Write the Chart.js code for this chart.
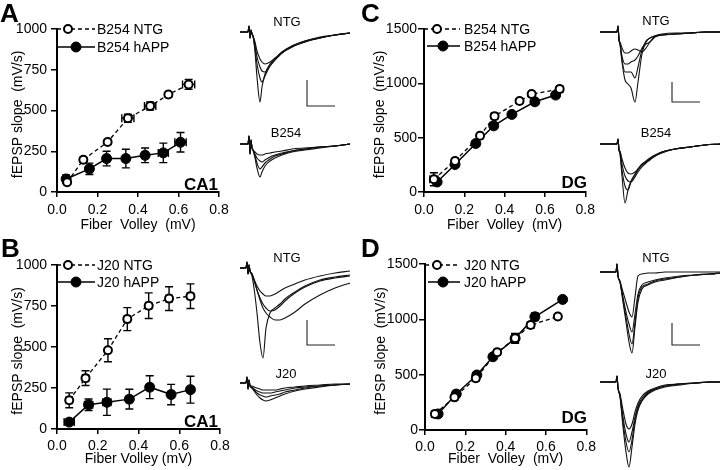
<!DOCTYPE html>
<html>
<head>
<meta charset="utf-8">
<script src="https://cdn.jsdelivr.net/npm/chart.js@4.4.1/dist/chart.umd.min.js"></script>
<style>
  body { margin: 0; background: #fff; }
  #fig { position: relative; width: 720px; height: 470px; overflow: hidden; font-family: "Liberation Sans", Arial, sans-serif; color: #000; }
  #fig canvas { position: absolute; }
  .letter { position: absolute; font-weight: bold; font-size: 26px; line-height: 26px; }
  .region { position: absolute; font-weight: bold; font-size: 17px; line-height: 17px; }
  .tl { position: absolute; width: 60px; text-align: center; font-size: 13px; line-height: 13px; }
</style>
</head>
<body>
<div id="fig">
  <canvas id="plotA" width="240" height="235" style="left:0;top:0"></canvas>
  <canvas id="plotB" width="240" height="235" style="left:0;top:235px"></canvas>
  <canvas id="plotC" width="240" height="235" style="left:360px;top:0"></canvas>
  <canvas id="plotD" width="240" height="235" style="left:360px;top:235px"></canvas>

  <canvas id="trA1" width="120" height="110" style="left:240px;top:17px"></canvas>
  <canvas id="trA2" width="120" height="110" style="left:240px;top:129px"></canvas>
  <canvas id="trB1" width="120" height="110" style="left:240px;top:253px"></canvas>
  <canvas id="trB2" width="120" height="110" style="left:240px;top:368px"></canvas>
  <canvas id="trC1" width="120" height="110" style="left:600px;top:17px"></canvas>
  <canvas id="trC2" width="120" height="110" style="left:600px;top:129px"></canvas>
  <canvas id="trD1" width="120" height="110" style="left:600px;top:257px"></canvas>
  <canvas id="trD2" width="120" height="110" style="left:600px;top:367px"></canvas>

  <div class="letter" style="left:0;top:0">A</div>
  <div class="letter" style="left:1px;top:235px">B</div>
  <div class="letter" style="left:361px;top:0">C</div>
  <div class="letter" style="left:361px;top:235px">D</div>

  <div class="region" style="right:502px;top:176px">CA1</div>
  <div class="region" style="right:502px;top:413px">CA1</div>
  <div class="region" style="right:133px;top:174px">DG</div>
  <div class="region" style="right:133px;top:409px">DG</div>

  <div class="tl" style="left:257px;top:15px">NTG</div>
  <div class="tl" style="left:256px;top:126px">B254</div>
  <div class="tl" style="left:257px;top:251px">NTG</div>
  <div class="tl" style="left:256px;top:367px">J20</div>
  <div class="tl" style="left:626px;top:14px">NTG</div>
  <div class="tl" style="left:626px;top:126px">B254</div>
  <div class="tl" style="left:626px;top:251px">NTG</div>
  <div class="tl" style="left:626px;top:367px">J20</div>
</div>

<script>
// fiber volley (mV) vs fEPSP slope (mV/s), errors = SEM
// A: B254 line, CA1
var fvA_ntg    = [0.05, 0.13, 0.25, 0.35, 0.46, 0.55, 0.65];
var slopeA_ntg = [60, 198, 307, 452, 527, 598, 660];
var semA_ntg   = [15, 15, 15, 25, 25, 15, 30];
var fvSemA_ntg = [0.01, 0.01, 0.01, 0.03, 0.028, 0.01, 0.03];
var fvA_app    = [0.045, 0.16, 0.245, 0.34, 0.435, 0.525, 0.61];
var slopeA_app = [80, 142, 205, 205, 225, 240, 305];
var semA_app   = [25, 35, 45, 57, 45, 60, 60];
var fvSemA_app = [0.015, 0.015, 0.015, 0.015, 0.015, 0.025, 0.028];

// B: J20 line, CA1
var fvB_ntg    = [0.06, 0.14, 0.25, 0.345, 0.45, 0.55, 0.655];
var slopeB_ntg = [175, 310, 480, 670, 752, 795, 810];
var semB_ntg   = [45, 45, 70, 70, 78, 72, 75];
var fvSemB_ntg = [0.015, 0.015, 0.01, 0.015, 0.015, 0.015, 0.015];
var fvB_app    = [0.06, 0.155, 0.245, 0.355, 0.455, 0.56, 0.655];
var slopeB_app = [42, 148, 163, 182, 255, 210, 240];
var semB_app   = [10, 35, 80, 60, 70, 62, 82];
var fvSemB_app = [0.025, 0.02, 0.02, 0.015, 0.015, 0.015, 0.015];

// C: B254 line, DG
var fvC_ntg    = [0.049, 0.154, 0.278, 0.35, 0.474, 0.534, 0.673];
var slopeC_ntg = [117, 286, 517, 698, 837, 901, 947];
var semC_ntg   = [60, 25, 25, 25, 20, 15, 20];
var fvSemC_ntg = [0.02, 0.01, 0.01, 0.015, 0.012, 0.012, 0.015];
var fvC_app    = [0.065, 0.154, 0.257, 0.346, 0.436, 0.55, 0.653];
var slopeC_app = [92, 253, 446, 609, 714, 830, 892];
var semC_app   = [25, 25, 25, 25, 20, 20, 25];
var fvSemC_app = [0.012, 0.01, 0.01, 0.01, 0.012, 0.012, 0.012];

// D: J20 line, DG
var fvD_ntg    = [0.049, 0.146, 0.252, 0.358, 0.447, 0.524, 0.659];
var slopeD_ntg = [145, 295, 467, 702, 828, 948, 1025];
var semD_ntg   = [25, 25, 25, 25, 40, 30, 20];
var fvSemD_ntg = [0.015, 0.01, 0.01, 0.01, 0.015, 0.015, 0.01];
var fvD_app    = [0.065, 0.155, 0.257, 0.337, 0.447, 0.545, 0.683];
var slopeD_app = [145, 325, 497, 662, 828, 1023, 1180];
var semD_app   = [20, 25, 25, 20, 45, 35, 20];
var fvSemD_app = [0.012, 0.01, 0.01, 0.01, 0.015, 0.015, 0.01];

var xTicks = [0, 0.2, 0.4, 0.6, 0.8];

// example field potential traces (time in samples, amplitude in a.u.)
var tAB = [0, 8, 9, 10, 11, 12, 13, 15, 17, 20, 22, 25, 30, 35, 42, 52, 65, 80, 95, 110];
var trA_ntg = [
  [0,0,6,-6,2,-2,-4,-20,-45,-70,-55,-42,-32,-27,-20,-14,-9,-6,-3,-1],
  [0,0,6,-6,2,-2,-4,-16,-32,-46,-50,-44,-34,-28,-21,-15,-10,-6,-3,-1],
  [0,0,6,-6,2,-2,-4,-13,-25,-35,-39,-40,-34,-28,-21,-15,-10,-6,-3,-1],
  [0,0,6,-6,2,-2,-4,-10,-19,-27,-30,-32,-30,-26,-20,-14,-9,-5,-3,-1]
];
var trA_tg = [
  [0,0,8,-10,4,-4,-6,-14,-24,-33,-28,-22,-17,-14,-11,-8,-6,-4,-2,0],
  [0,0,8,-10,4,-4,-6,-12,-19,-25,-23,-19,-15,-12,-10,-7,-5,-3,-2,0],
  [0,0,8,-10,4,-4,-6,-10,-14,-17,-18,-16,-13,-11,-9,-7,-5,-3,-2,0],
  [0,0,8,-10,4,-4,-6,-8,-10,-11,-11,-10,-9,-8,-7,-5,-4,-3,-2,0]
];
var tB = [0, 6, 7, 8, 9, 10, 12, 14, 17, 20, 23, 26, 30, 35, 40, 45, 55, 65, 80, 95, 110];
var trB_ntg = [
  [0,0,6,-6,3,-3,-8,-20,-45,-75,-90,-60,-45,-40,-36,-31,-24,-18,-12,-9,-7],
  [0,0,6,-6,3,-3,-6,-12,-22,-32,-40,-45,-49,-52,-52,-50,-44,-36,-27,-20,-15],
  [0,0,6,-6,3,-3,-6,-12,-22,-30,-36,-40,-43,-42,-38,-33,-25,-19,-13,-10,-8],
  [0,0,6,-6,3,-3,-6,-11,-18,-23,-26,-28,-28,-26,-23,-20,-16,-12,-8,-5,-3]
];
var trB_tg = [
  [0,0,6,-6,3,-3,-5,-8,-12,-15,-17,-18,-17,-15,-13,-11,-8,-6,-4,-2,-1],
  [0,0,6,-6,3,-3,-5,-7,-10,-12,-13,-14,-13,-12,-11,-9,-7,-5,-3,-2,-1],
  [0,0,6,-6,3,-3,-4,-6,-8,-9,-10,-10,-10,-9,-8,-7,-5,-4,-3,-2,-1],
  [0,0,6,-6,3,-3,-3,-4,-5,-6,-7,-7,-7,-7,-6,-5,-4,-3,-2,-1,-1]
];
var tC = [0, 17, 18, 19, 20, 22, 25, 28, 31, 35, 38, 42, 46, 50, 55, 62, 75, 90, 105, 120];
var trC_ntg = [
  [0,0,6,-8,-12,-30,-48,-52,-56,-70,-50,-22,-10,-6,-4,-3,-2,-1,0,0],
  [0,0,6,-8,-12,-28,-40,-40,-40,-46,-35,-18,-9,-6,-4,-3,-2,-1,0,0],
  [0,0,6,-8,-11,-24,-32,-32,-30,-28,-24,-16,-12,-10,-5,-3,-2,-1,0,0],
  [0,0,6,-8,-10,-16,-21,-21,-19,-17,-18,-20,-16,-10,-4,-2,-1,-1,0,0]
];
var trC_tg = [
  [0,0,5,-6,-10,-32,-59,-46,-37,-30,-25,-20,-17,-14,-11,-8,-5,-3,-1,0],
  [0,0,5,-6,-9,-26,-42,-46,-38,-31,-26,-21,-18,-15,-12,-8,-5,-3,-1,0],
  [0,0,5,-6,-8,-20,-32,-37,-38,-33,-28,-23,-19,-16,-12,-9,-5,-3,-1,0],
  [0,0,5,-6,-7,-15,-24,-29,-30,-28,-25,-21,-18,-15,-12,-8,-5,-3,-1,0]
];
var tD = [0, 16, 17, 18, 20, 23, 26, 29, 32, 35, 38, 42, 48, 55, 65, 80, 95, 110, 120];
var trD_ntg = [
  [0,0,8,-4,-10,-30,-50,-70,-81,-55,-30,-17,-13,-10,-8,-5,-3,-2,-1],
  [0,0,8,-4,-10,-28,-45,-62,-72,-50,-26,-15,-12,-9,-7,-5,-3,-2,-1],
  [0,0,8,-4,-10,-25,-40,-52,-60,-42,-22,-13,-10,-8,-6,-4,-3,-2,-1],
  [0,0,8,-4,-9,-20,-30,-40,-45,-25,-4,-2,-1,-1,0,0,0,0,0]
];
var trD_tg = [
  [0,0,6,-6,-15,-45,-70,-85,-65,-42,-28,-19,-12,-8,-5,-3,-1,0,0],
  [0,0,6,-6,-14,-40,-60,-70,-58,-38,-26,-18,-11,-7,-4,-2,-1,0,0],
  [0,0,6,-6,-13,-35,-52,-60,-50,-35,-24,-16,-10,-7,-4,-2,-1,0,0],
  [0,0,6,-6,-12,-28,-42,-47,-42,-30,-21,-14,-9,-6,-3,-2,-1,0,0]
];
// calibration bars, same units as traces
var barAB_t = [67, 67, 95];
var barA_v  = [-48, -74, -74];
var barB_v  = [-52, -77, -77];
var barCD_t = [72, 72, 100];
var barC_v  = [-50, -70, -70];
var barD_v  = [-51, -73, -73];

Chart.defaults.font.family = '"Liberation Sans", Arial, sans-serif';
Chart.defaults.color = '#000';

function pts(xs, ys) {
  return xs.map(function (x, i) { return {x: x, y: ys[i]}; });
}

var errorBars = {
  id: 'errorBars',
  beforeDatasetsDraw: function (chart) {
    var ctx = chart.ctx, xs = chart.scales.x, ys = chart.scales.y, cap = 4;
    ctx.save();
    ctx.strokeStyle = '#000';
    ctx.lineWidth = 1.4;
    chart.data.datasets.forEach(function (ds) {
      if (!ds.yErr) return;
      ds.data.forEach(function (p, i) {
        var px = xs.getPixelForValue(p.x), py = ys.getPixelForValue(p.y);
        var t = ys.getPixelForValue(p.y + ds.yErr[i]), b = ys.getPixelForValue(p.y - ds.yErr[i]);
        var l = xs.getPixelForValue(p.x - ds.xErr[i]), r = xs.getPixelForValue(p.x + ds.xErr[i]);
        ctx.beginPath();
        ctx.moveTo(px, t); ctx.lineTo(px, b);
        ctx.moveTo(px - cap, t); ctx.lineTo(px + cap, t);
        ctx.moveTo(px - cap, b); ctx.lineTo(px + cap, b);
        ctx.moveTo(l, py); ctx.lineTo(r, py);
        ctx.moveTo(l, py - cap); ctx.lineTo(l, py + cap);
        ctx.moveTo(r, py - cap); ctx.lineTo(r, py + cap);
        ctx.stroke();
      });
    });
    ctx.restore();
  }
};

function legendPlugin(lay) {
  return {
    id: 'insideLegend',
    afterDatasetsDraw: function (chart) {
      var ctx = chart.ctx;
      ctx.save();
      chart.data.datasets.forEach(function (ds, i) {
        var r = lay.legend[i];
        ctx.strokeStyle = '#000';
        ctx.lineWidth = ds.borderWidth;
        ctx.setLineDash(ds.borderDash || []);
        ctx.beginPath(); ctx.moveTo(r.x0, r.y); ctx.lineTo(r.x1, r.y); ctx.stroke();
        ctx.setLineDash([]);
        ctx.beginPath(); ctx.arc(r.dot, r.y, ds.pointRadius, 0, Math.PI * 2);
        ctx.fillStyle = ds.pointBackgroundColor; ctx.fill();
        ctx.lineWidth = ds.pointBorderWidth; ctx.stroke();
        ctx.fillStyle = '#000';
        ctx.font = '14px "Liberation Sans", Arial, sans-serif';
        ctx.textBaseline = 'middle';
        ctx.fillText(ds.label, lay.textX, r.y + 1);
      });
      ctx.restore();
    }
  };
}

function makePanel(id, lay, names, ntg, app, yMax, yStep, xTitle) {
  new Chart(document.getElementById(id), {
    type: 'scatter',
    data: {
      datasets: [{
        label: names[0],
        data: pts(ntg[0], ntg[1]), yErr: ntg[2], xErr: ntg[3],
        showLine: true, borderColor: '#000', borderWidth: 1.3, borderDash: [4, 3],
        pointRadius: 4, pointBorderWidth: 2, pointBackgroundColor: '#fff', pointBorderColor: '#000'
      }, {
        label: names[1],
        data: pts(app[0], app[1]), yErr: app[2], xErr: app[3],
        showLine: true, borderColor: '#000', borderWidth: 1.5,
        pointRadius: 5, pointBorderWidth: 1, pointBackgroundColor: '#000', pointBorderColor: '#000'
      }]
    },
    options: {
      responsive: false,
      animation: false,
      layout: { padding: { top: lay.padTop, right: lay.padRight, left: 0, bottom: 0 } },
      plugins: { legend: { display: false }, tooltip: { enabled: false } },
      scales: {
        x: {
          type: 'linear', min: 0, max: 0.8,
          afterBuildTicks: function (s) { s.ticks = xTicks.map(function (v) { return {value: v}; }); },
          afterFit: function (s) { s.height = lay.xAxisH; },
          ticks: { font: { size: 14 }, padding: lay.xTickPad, maxRotation: 0,
                   callback: function (v) { return v.toFixed(1); } },
          grid: { drawOnChartArea: false, tickLength: 5, tickColor: '#000', lineWidth: 1.5 },
          border: { color: '#000', width: 2 },
          title: { display: true, text: xTitle, font: { size: 14 }, padding: { top: 0, bottom: lay.xTitlePad } }
        },
        y: {
          min: 0, max: yMax,
          afterFit: function (s) { s.width = lay.yAxisW; },
          ticks: { stepSize: yStep, font: { size: 14 }, padding: lay.yTickPad,
                   callback: function (v) { return String(v); } },
          grid: { drawOnChartArea: false, tickLength: 6, tickColor: '#000', lineWidth: 1.5 },
          border: { color: '#000', width: 2 },
          title: { display: true, text: 'fEPSP slope  (mV/s)  ', font: { size: 14 }, padding: { top: lay.yTitlePad, bottom: 0 } }
        }
      }
    },
    plugins: [errorBars, legendPlugin(lay)]
  });
}

function makeTraces(id, t, traces, barT, barV) {
  var sets = traces.map(function (tr) {
    return { data: pts(t, tr), borderColor: '#111', borderWidth: 1.1, pointRadius: 0,
             cubicInterpolationMode: 'monotone' };
  });
  if (barT) {
    sets.push({ data: pts(barT, barV), borderColor: '#222', borderWidth: 1.1, pointRadius: 0 });
  }
  new Chart(document.getElementById(id), {
    type: 'line',
    data: { datasets: sets },
    options: {
      responsive: false,
      animation: false,
      layout: { padding: 0 },
      plugins: { legend: { display: false }, tooltip: { enabled: false } },
      scales: {
        x: { type: 'linear', min: 0, max: 120, display: false },
        y: { min: -95, max: 15, display: false }
      }
    }
  });
}

makePanel('plotA',
  { yAxisW: 57, padTop: 29, padRight: 21, xAxisH: 43, xTickPad: 5, yTickPad: 4, xTitlePad: 1, yTitlePad: 10,
    textX: 97, legend: [{y: 29, x0: 57, x1: 95, dot: 68}, {y: 47, x0: 58, x1: 95, dot: 76}] },
  ['B254 NTG', 'B254 hAPP'],
  [fvA_ntg, slopeA_ntg, semA_ntg, fvSemA_ntg], [fvA_app, slopeA_app, semA_app, fvSemA_app],
  1000, 250, 'Fiber  Volley  (mV)');

makePanel('plotB',
  { yAxisW: 57, padTop: 30, padRight: 20, xAxisH: 41, xTickPad: 4, yTickPad: 4, xTitlePad: 2, yTitlePad: 10,
    textX: 97, legend: [{y: 30, x0: 57, x1: 95, dot: 68}, {y: 47, x0: 58, x1: 95, dot: 76}] },
  ['J20 NTG', 'J20 hAPP'],
  [fvB_ntg, slopeB_ntg, semB_ntg, fvSemB_ntg], [fvB_app, slopeB_app, semB_app, fvSemB_app],
  1000, 250, 'Fiber Volley (mV)');

makePanel('plotC',
  { yAxisW: 64, padTop: 29, padRight: 12, xAxisH: 43, xTickPad: 5, yTickPad: 1, xTitlePad: 1, yTitlePad: 12,
    textX: 104, legend: [{y: 29, x0: 64, x1: 100, dot: 77}, {y: 46, x0: 67, x1: 100, dot: 83}] },
  ['B254 NTG', 'B254 hAPP'],
  [fvC_ntg, slopeC_ntg, semC_ntg, fvSemC_ntg], [fvC_app, slopeC_app, semC_app, fvSemC_app],
  1500, 500, 'Fiber  Volley  (mV)');

makePanel('plotD',
  { yAxisW: 65, padTop: 29, padRight: 12, xAxisH: 40, xTickPad: 4, yTickPad: 1, xTitlePad: 2, yTitlePad: 13,
    textX: 104, legend: [{y: 30, x0: 65, x1: 100, dot: 77}, {y: 47, x0: 68, x1: 100, dot: 83}] },
  ['J20 NTG', 'J20 hAPP'],
  [fvD_ntg, slopeD_ntg, semD_ntg, fvSemD_ntg], [fvD_app, slopeD_app, semD_app, fvSemD_app],
  1500, 500, 'Fiber  Volley  (mV)');

makeTraces('trA1', tAB, trA_ntg, barAB_t, barA_v);
makeTraces('trA2', tAB, trA_tg);
makeTraces('trB1', tB, trB_ntg, barAB_t, barB_v);
makeTraces('trB2', tB, trB_tg);
makeTraces('trC1', tC, trC_ntg, barCD_t, barC_v);
makeTraces('trC2', tC, trC_tg);
makeTraces('trD1', tD, trD_ntg, barCD_t, barD_v);
makeTraces('trD2', tD, trD_tg);
</script>
</body>
</html>
